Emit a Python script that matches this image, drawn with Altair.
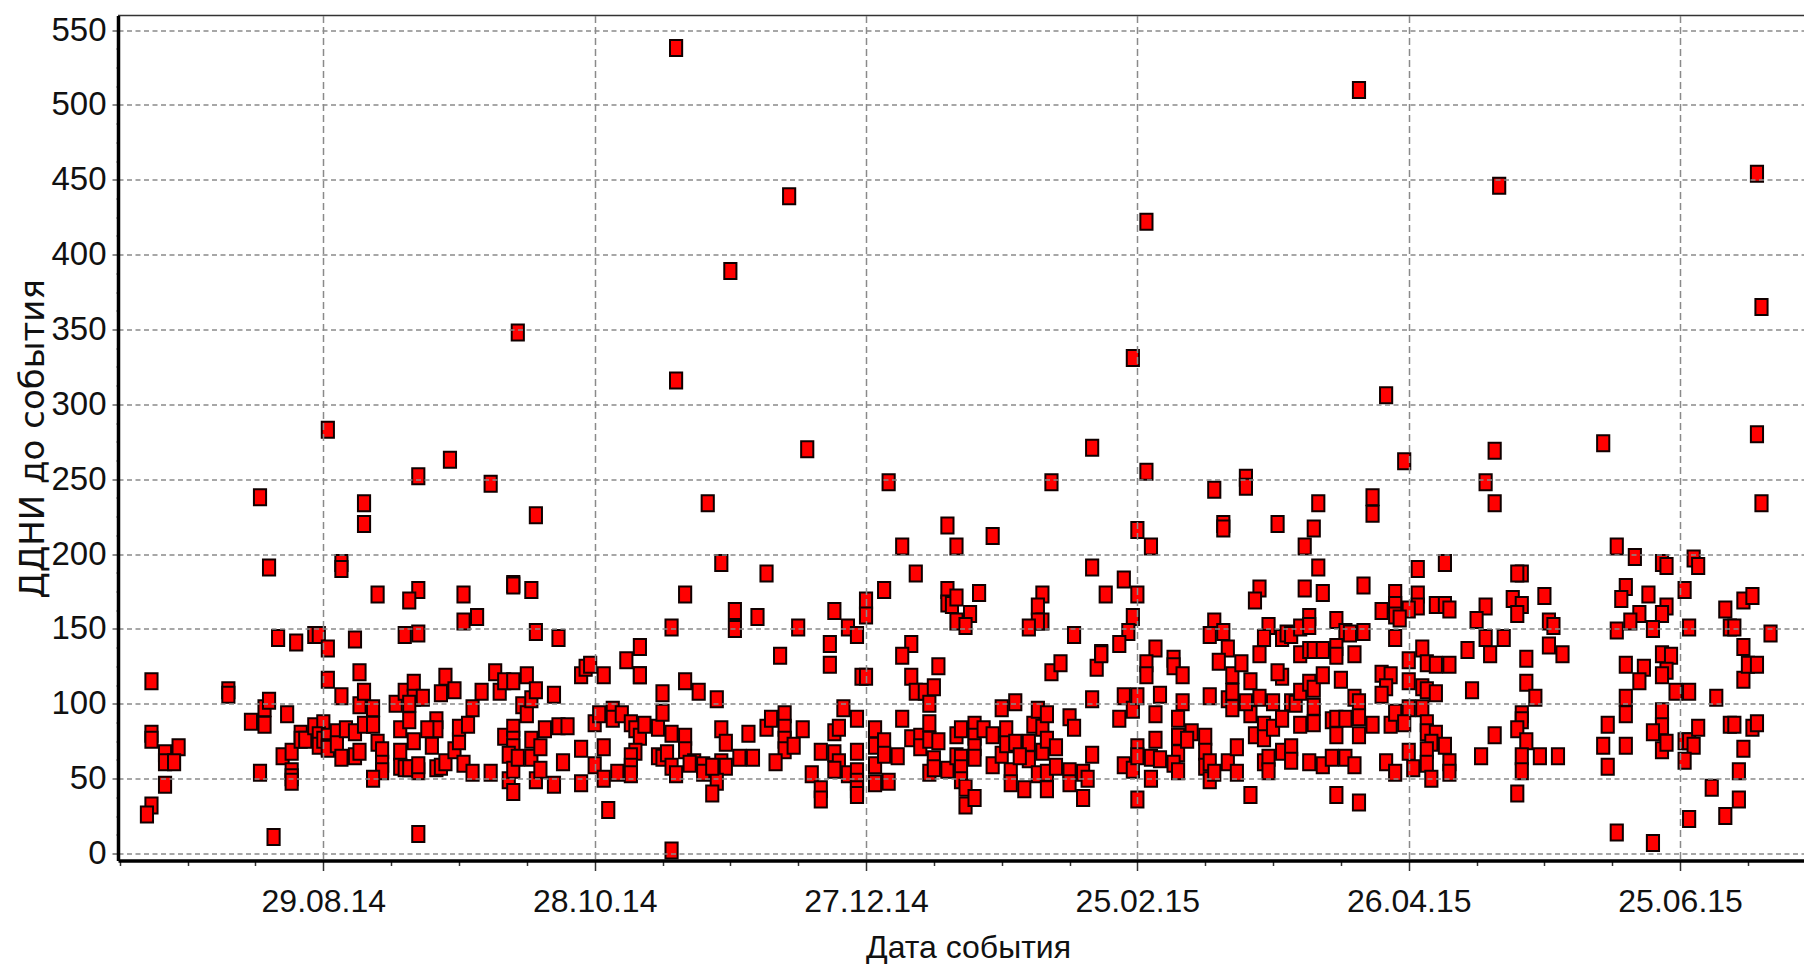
import altair as alt
import pandas as pd

BASE = pd.Timestamp("2014-08-29", tz="UTC")
DAY_MS = 86400000
BASE_MS = int(BASE.value // 1000000)

y_title = "ДДНИ до события"
x_title = "Дата события"

# days since 29.08.14 / days before the event
top_days = [78, 229, 103, 260, 317, 182, 90, 318, 43, 179,
            78, 235]
top_vals = [538, 510, 439, 446, 454, 422, 389, 365, 348, 331,
            316, 306]

upper1_days = [1, 28, 21, 37, -14, 9, 9, 47, -12, 4,
               4, 12, 21, 19, 31, 42, 42, 46, 34, 31,
               -10, -6, -2, -1, 1, 7, 18, 21, 47]
upper1_vals = [283, 263, 252, 247, 238, 234, 220, 226, 191, 194,
               190, 173, 176, 169, 173, 180, 179, 176, 158, 155,
               144, 141, 146, 146, 137, 143, 146, 147, 148]

upper2_days = [107, 125, 85, 138, 128, 140, 88, 98, 131, 80,
               124, 120, 120, 113, 138, 138, 139, 140, 145, 143,
               140, 142, 91, 91, 96, 77, 105, 116, 118, 112,
               130, 70, 52]
upper2_vals = [270, 248, 234, 219, 205, 205, 194, 187, 187, 173,
               176, 169, 159, 162, 176, 167, 166, 171, 174, 160,
               155, 152, 162, 150, 158, 151, 151, 151, 146, 140,
               140, 138, 144]

upper3_days = [170, 182, 161, 197, 204, 204, 220, 232, 232, 148,
               180, 183, 199, 199, 211, 219, 217, 220, 170, 177,
               159, 158, 159, 158, 156, 173, 180, 179, 178, 166,
               176, 172, 184, 207, 206, 217, 221, 230, 197, 196,
               199, 200, 209, 208, 212, 213, 214, 216, 218, 218,
               224, 226, 227, 230, 234, 237, 237, 237, 237, 224]
upper3_vals = [271, 255, 248, 243, 251, 245, 234, 238, 227, 212,
               216, 205, 220, 217, 220, 217, 205, 191, 191, 183,
               173, 165, 155, 155, 151, 173, 173, 158, 148, 146,
               140, 134, 137, 177, 169, 177, 174, 179, 155, 146,
               148, 137, 152, 144, 144, 147, 146, 151, 158, 152,
               156, 148, 147, 148, 162, 174, 166, 159, 144, 138]

upper4_days = [317, 283, 259, 257, 259, 318, 239, 286, 290, 248,
               242, 265, 264, 296, 297, 303, 304, 301, 293, 288,
               287, 270, 263, 265, 264, 257, 255, 242, 242, 246,
               248, 249, 240, 238, 271, 272, 297, 296, 291, 289,
               286, 294, 302, 310, 314, 316, 311, 312, 320, 314,
               257, 261]
upper4_vals = [280, 274, 269, 248, 234, 234, 262, 205, 198, 194,
               190, 187, 187, 194, 192, 197, 192, 176, 173, 178,
               170, 172, 170, 166, 160, 165, 156, 173, 165, 166,
               166, 163, 163, 157, 155, 152, 165, 160, 160, 155,
               149, 150, 151, 163, 169, 172, 151, 151, 147, 138,
               144, 144]

low1_days = [-38, -38, -38, -35, -35, -32, -33, -35, -38, -39,
             -21, -21, -16, -13, -12, -13, -14, -11, -8, -9,
             -7, -7, -7, -7, -5, -5, -4, -2, 0, -1,
             -1, 0, 1, 1, 1, 3, 3, 4, 5, 7,
             7, 8, 9, 8, 8, 9, 11, 11, 12, 13,
             13, 13, 11, 1, 4, 16, 18, 17, 17, 17,
             18, 19, 20, 19, 20, 20, 19, 22, 21, 21,
             21, 25, 25, 23, 24, 25, 26, 26, 27, 29,
             27, 29, 30, 30, 32, 33, 31, 33, 35, 37,
             38, 39, 40, 42, 40, 42, 42, 42, 41, 41,
             42, 43, 42, 45, 44, 45, 46, 47, 46, 46,
             47]
low1_vals = [115, 80, 76, 67, 61, 71, 61, 46, 32, 26,
             109, 106, 88, 97, 102, 86, 54, 11, 93, 65,
             68, 55, 51, 48, 80, 76, 76, 85, 87, 79,
             72, 76, 78, 71, 70, 81, 73, 64, 83, 81,
             65, 68, 86, 99, 121, 108, 97, 86, 74, 69,
             60, 55, 50, 116, 105, 100, 108, 83, 68, 58,
             57, 57, 75, 89, 114, 104, 100, 104, 55, 59,
             13, 89, 83, 83, 72, 57, 58, 107, 118, 109,
             61, 69, 75, 84, 86, 97, 60, 54, 108, 54,
             121, 108, 115, 115, 78, 84, 76, 71, 66, 49,
             56, 64, 41, 119, 99, 93, 103, 109, 76, 64,
             49]

low2_days = [51, 49, 48, 53, 48, 51, 52, 54, 57, 57,
             57, 58, 59, 62, 60, 61, 60, 62, 62, 63,
             64, 64, 66, 65, 67, 70, 68, 69, 70, 71,
             69, 68, 68, 68, 74, 75, 75, 77, 74, 75,
             76, 77, 78, 80, 80, 80, 82, 81, 83, 84,
             84, 87, 88, 89, 88, 89, 87, 86, 86, 77,
             92, 95, 94, 98, 99, 102, 102, 102, 102, 104,
             100, 106, 101, 108, 110, 110, 110, 112, 115, 113,
             114, 113, 114, 113, 116, 118, 118, 118, 118, 118,
             118, 119, 120, 122, 122, 122, 122, 124, 124, 125,
             127, 128, 128, 130, 130, 131, 132, 132, 133, 134,
             134, 134, 135, 136, 136, 135, 134, 135, 138, 140,
             141, 140, 141, 141, 141, 142, 142, 144, 144, 144,
             144, 144, 70]
low2_vals = [106, 83, 71, 61, 56, 46, 85, 85, 70, 47,
             119, 124, 126, 119, 87, 93, 59, 71, 50, 29,
             96, 90, 93, 54, 129, 119, 87, 83, 78, 86,
             68, 65, 58, 53, 84, 107, 94, 80, 65, 64,
             67, 58, 53, 78, 115, 69, 61, 60, 108, 59,
             54, 103, 83, 74, 61, 58, 48, 40, 58, 2,
             64, 64, 80, 84, 90, 93, 84, 76, 69, 72,
             61, 83, 132, 53, 68, 43, 36, 126, 97, 81,
             84, 67, 61, 56, 53, 90, 68, 55, 48, 43,
             39, 118, 118, 83, 72, 59, 47, 75, 66, 48,
             65, 90, 132, 118, 77, 108, 78, 71, 108, 100,
             87, 76, 111, 125, 75, 63, 54, 57, 56, 79,
             83, 65, 64, 57, 49, 44, 32, 86, 78, 71,
             64, 37, 119]

low3_days = [146, 148, 148, 150, 151, 150, 151, 153, 153, 152,
             152, 155, 156, 156, 154, 157, 158, 159, 159, 160,
             160, 158, 160, 160, 162, 162, 165, 166, 165, 165,
             168, 169, 168, 170, 170, 161, 163, 171, 172, 176,
             177, 177, 179, 180, 179, 180, 180, 180, 182, 182,
             184, 184, 183, 183, 185, 185, 188, 188, 190, 190,
             189, 189, 189, 188, 189, 192, 191, 195, 195, 195,
             196, 196, 197, 196, 198, 201, 200, 201, 201, 200,
             202, 202, 203, 205, 205, 204, 205, 207, 207, 206,
             208, 208, 208, 209, 209, 210, 210, 212, 211, 212,
             212, 214, 214, 214, 215, 216, 216, 218, 219, 218,
             219, 219, 219, 216, 218, 221, 221, 221, 223, 223,
             224, 224, 224, 224, 225, 226, 226, 228, 228, 228,
             229, 229, 229, 229, 232, 234, 236, 235, 234, 235,
             236, 237, 237]
low3_vals = [83, 79, 59, 97, 83, 66, 73, 101, 74, 55,
             47, 43, 74, 63, 65, 86, 96, 84, 68, 93,
             76, 53, 54, 43, 71, 58, 91, 84, 55, 47,
             54, 50, 37, 103, 66, 121, 127, 124, 133, 90,
             59, 105, 96, 105, 56, 71, 65, 36, 127, 119,
             93, 76, 64, 50, 63, 106, 130, 125, 119, 101,
             90, 78, 67, 60, 55, 81, 76, 78, 68, 58,
             61, 49, 54, 105, 128, 119, 103, 108, 97, 61,
             71, 54, 127, 115, 93, 101, 39, 133, 104, 79,
             86, 77, 61, 64, 55, 101, 84, 118, 121, 90,
             68, 71, 62, 101, 100, 108, 133, 136, 136, 114,
             110, 98, 87, 86, 61, 136, 119, 59, 89, 64,
             79, 90, 39, 132, 116, 64, 90, 133, 59, 104,
             101, 91, 79, 34, 86, 120, 119, 111, 106, 61,
             86, 54, 94]

low4_days = [243, 240, 244, 246, 249, 240, 243, 244, 246, 240,
             243, 239, 244, 244, 246, 245, 240, 244, 248, 249,
             249, 241, 244, 245, 253, 258, 254, 259, 256, 266,
             266, 268, 265, 265, 264, 266, 265, 265, 269, 273,
             264, 271, 274, 288, 292, 291, 288, 288, 284, 288,
             283, 284, 286, 294, 296, 298, 297, 296, 299, 302,
             296, 296, 294, 296, 297, 301, 302, 304, 303, 301,
             302, 308, 307, 310, 313, 313, 314, 311, 312, 316,
             317, 314, 315, 317]
low4_vals = [137, 129, 127, 126, 126, 115, 111, 109, 107, 97,
             97, 87, 87, 81, 80, 74, 68, 69, 72, 61,
             54, 57, 60, 50, 136, 133, 109, 79, 65, 130,
             114, 104, 93, 89, 83, 75, 65, 55, 65, 65,
             40, 139, 133, 126, 124, 115, 104, 93, 86, 72,
             72, 58, 14, 7, 133, 132, 122, 119, 108, 108,
             95, 85, 81, 69, 74, 75, 75, 84, 72, 62,
             23, 104, 44, 25, 36, 55, 70, 86, 86, 84,
             87, 116, 126, 126]

groups = [(top_days, top_vals), (upper1_days, upper1_vals), (upper2_days, upper2_vals),
          (upper3_days, upper3_vals), (upper4_days, upper4_vals), (low1_days, low1_vals),
          (low2_days, low2_vals), (low3_days, low3_vals), (low4_days, low4_vals)]
rows = []
for ds, vs in groups:
    assert len(ds) == len(vs), (len(ds), len(vs))
    rows += [{"date": BASE_MS + d * DAY_MS, "value": v} for d, v in zip(ds, vs)]
df = pd.DataFrame(rows)

x_ticks = [BASE_MS + d * DAY_MS for d in range(-45, 316, 15)]
y_ticks = [i * 12.5 for i in range(0, 45)]

is_major_x = f"(datum.value - {BASE_MS}) % {60 * DAY_MS} === 0"
is_major_y = "datum.value % 50 === 0"
FONT = "Liberation Sans"

x_axis = alt.Axis(
    values=x_ticks,
    title=x_title,
    labelExpr=f"{is_major_x} ? utcFormat(datum.value, '%d.%m.%y') : ''",
    labelFont=FONT, labelFontSize=32, labelColor="#111111", labelPadding=16, labelFlush=False,
    labelOverlap=False, labelBaseline="top",
    titleFont=FONT, titleFontSize=32, titleFontWeight="normal", titleColor="#111111",
    titleAnchor="start", titleAlign="center", titleX=850, titleY=97, titleBaseline="alphabetic",
    domainColor="#000000", domainWidth=3.5,
    tickColor="#333333", tickWidth=1.5,
    tickSize={"condition": {"test": is_major_x, "value": 10}, "value": 5},
    grid=True, gridColor="#8a8a8a", gridWidth=1.5, gridDash=[7, 4],
    gridOpacity={"condition": {"test": is_major_x, "value": 1}, "value": 0},
    zindex=1,
)
y_axis = alt.Axis(
    values=y_ticks,
    title=y_title,
    labelExpr=f"{is_major_y} ? datum.value : ''",
    labelFont=FONT, labelFontSize=33, labelColor="#111111", labelPadding=6, labelOverlap=False, labelFlush=False,
    titleFont="DejaVu Sans", titleFontSize=34, titleFontWeight="normal", titleColor="#111111",
    titleX=-68, titleY=423,
    domainColor="#000000", domainWidth=3.5,
    tickColor="#666666", tickWidth=1.5,
    tickSize={"condition": {"test": is_major_y, "value": 6}, "value": 2},
    grid=True, gridColor="#8a8a8a", gridWidth=1.5, gridDash=[5, 3.5],
    gridOpacity={"condition": {"test": is_major_y, "value": 1}, "value": 0},
    zindex=1,
)

PLOT_W = 1686
PLOT_H = 845
x_scale = alt.Scale(type="utc", domain=[BASE_MS - 45.4 * DAY_MS, BASE_MS + 327.4 * DAY_MS], nice=False)
y_scale = alt.Scale(domain=[-4.67, 559.7], nice=False, zero=False)

points = alt.Chart(df).mark_point(
    shape="M-0.76,-1L0.76,-1L0.76,1L-0.76,1Z",
    filled=True, size=256, fill="#ff0000", stroke="#100000", strokeWidth=2, opacity=1,
).encode(
    x=alt.X("date:T", scale=x_scale, axis=x_axis),
    y=alt.Y("value:Q", scale=y_scale, axis=y_axis),
)

top_line = alt.Chart(alt.Data(values=[{"a": 0}])).mark_rule(color="#333333", strokeWidth=1.5).encode(
    x=alt.value(0), x2=alt.value(PLOT_W), y=alt.value(0)
)

chart = alt.layer(top_line, points).properties(
    width=PLOT_W, height=PLOT_H,
    padding={"left": 110, "top": 7.5, "right": 0, "bottom": 103},
    autosize=alt.AutoSizeParams(type="none"),
    background="#ffffff",
).configure_view(stroke=None)

chart.save("out.html", embed_options={"renderer": "svg", "actions": False})
